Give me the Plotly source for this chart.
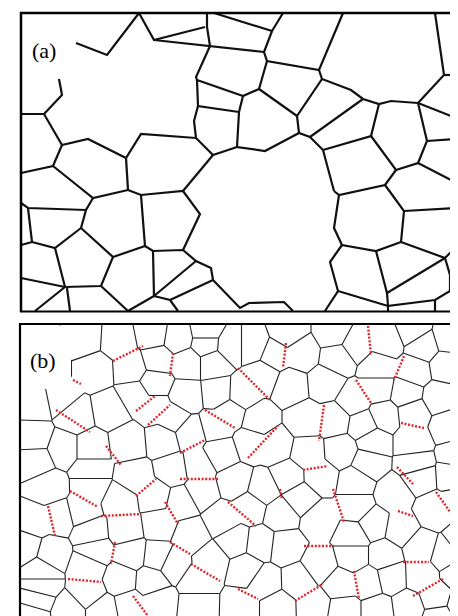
import plotly.graph_objects as go
import math

# ---------------- data (pixel-like coordinates, y downward) -------------
# Panel (a): grain boundary polylines
A_PATHS = [
    [(68, 35), (99, 47), (131, 5)],
    [(131, 5), (146, 32), (197, 19)],
    [(146, 32), (202, 38), (256, 44)],
    [(199, 5), (199, 19), (202, 38), (193, 58), (188, 69), (189, 72)],
    [(189, 72), (235, 88)],
    [(189, 72), (190, 98), (231, 104)],
    [(190, 98), (186, 113), (188, 130), (205, 147), (229, 139)],
    [(205, 147), (175, 183)],
    [(188, 130), (133, 126), (118, 150), (80, 131), (54, 137), (36, 106), (13, 106)],
    [(36, 106), (54, 87), (51, 71)],
    [(54, 137), (45, 158), (13, 165)],
    [(118, 150), (120, 182)],
    [(206, 5), (264, 23), (275, 5)],
    [(264, 23), (256, 44), (259, 53), (311, 62), (335, 5)],
    [(311, 62), (314, 71), (343, 82), (355, 91), (371, 96), (383, 93), (410, 95)],
    [(314, 71), (289, 108), (291, 125)],
    [(259, 53), (251, 81), (235, 88)],
    [(251, 81), (289, 108)],
    [(235, 88), (231, 104), (229, 139), (257, 143), (291, 125), (302, 129), (355, 91)],
    [(302, 129), (315, 142), (326, 183)],
    [(315, 142), (363, 128), (371, 96)],
    [(363, 128), (388, 162), (410, 155), (419, 133), (410, 95)],
    [(410, 95), (436, 67), (427, 5)],
    [(436, 67), (458, 67)],
    [(410, 95), (458, 114)],
    [(419, 133), (448, 131), (458, 129)],
    [(448, 131), (451, 176)],
    [(410, 155), (451, 176), (450, 200), (458, 199)],
    [(388, 162), (377, 177), (331, 187), (326, 183)],
    [(331, 187), (326, 220), (334, 237), (368, 243), (393, 234), (396, 203), (377, 177)],
    [(396, 203), (450, 200)],
    [(393, 234), (437, 250), (444, 243), (450, 200)],
    [(444, 243), (458, 240)],
    [(437, 250), (442, 267), (442, 283), (458, 300)],
    [(442, 267), (458, 267)],
    [(442, 283), (427, 292), (380, 298), (380, 303)],
    [(427, 292), (427, 303)],
    [(368, 243), (379, 285), (437, 250)],
    [(379, 285), (380, 298)],
    [(334, 237), (322, 254), (330, 283), (317, 303)],
    [(330, 283), (380, 298)],
    [(205, 272), (232, 300), (241, 295), (276, 294), (285, 303)],
    [(120, 182), (133, 187), (175, 183), (192, 206), (175, 242)],
    [(45, 158), (85, 190), (120, 182)],
    [(133, 187), (137, 238), (145, 243), (175, 242), (188, 253), (203, 260), (205, 272)],
    [(145, 243), (146, 288)],
    [(137, 238), (105, 249)],
    [(85, 190), (78, 202), (73, 220)],
    [(78, 202), (20, 200), (13, 195)],
    [(20, 200), (24, 234), (13, 237)],
    [(73, 220), (47, 240), (24, 234)],
    [(73, 220), (105, 249), (93, 278), (57, 279), (47, 240)],
    [(57, 279), (13, 270)],
    [(57, 279), (27, 303)],
    [(59, 280), (62, 303)],
    [(93, 278), (120, 303)],
    [(146, 288), (120, 303)],
    [(146, 288), (188, 253)],
    [(146, 288), (162, 292), (170, 303)],
    [(162, 292), (205, 272)],
]

# Panel (b): grain centres (seeds of the tessellation)
B_SEED_X = [
    28, 40,
    76, 110, 145, 150, 87, 123, 147, 28, 52, 67, 103, 127, 147, 27, 55, 83, 120, 155,
    170, 198, 198, 222, 205, 245, 280, 267, 293, 180, 178, 210, 234, 255, 282, 318,
    165, 208, 182, 222, 250, 298, 243, 267, 213, 190, 300,
    326, 348, 378, 405, 415, 441, 330, 370, 406, 438, 346, 370, 398, 431, 326, 356,
    376, 405, 440, 405, 365, 333, 360, 408, 448,
    28, 40, 83, 83, 127, 147, 112, 75, 50, 27, 83, 117, 152, 18, 43, 87, 123, 150,
    33, 33, 80, 113, 143, 80, 30, 60, 25, 95, 122, 150,
    165, 227, 255, 280, 292, 193, 173, 215, 242, 273, 312, 182, 227, 252, 277, 312,
    165, 203, 238, 257, 290, 190, 190, 233, 270, 306,
    312, 348, 386, 411, 445, 450, 426, 348, 345, 365, 393, 413, 438, 453, 345, 376,
    383, 413, 450, 333, 360, 336, 370, 400, 428, 453, 431,
]
B_SEED_Y = [
    330, 362,
    331, 333, 326, 352, 362, 360, 375, 395, 390, 408, 402, 388, 400, 430, 440, 440, 435, 432,
    330, 324, 336, 338, 355, 338, 325, 347, 345, 355, 388, 385, 386, 368, 378, 375,
    410, 418, 425, 405, 412, 412, 435, 438, 445, 458, 445,
    325, 337, 333, 322, 338, 330, 350, 360, 363, 358, 392, 380, 385, 390, 412, 417,
    408, 405, 418, 433, 433, 443, 455, 457, 448,
    452, 480, 462, 479, 469, 488, 493, 503, 509, 513, 524, 521, 516, 539, 546, 543, 546, 549,
    563, 579, 559, 571, 573, 584, 591, 603, 608, 603, 598, 594,
    462, 474, 481, 469, 490, 483, 494, 511, 499, 506, 512, 528, 533, 536, 539, 557,
    556, 553, 561, 574, 573, 573, 598, 599, 599, 598,
    468, 474, 486, 468, 466, 496, 503, 499, 528, 516, 521, 539, 546, 534, 548, 548,
    569, 568, 566, 576, 574, 603, 603, 599, 589, 596, 610,
]

# Panel (b): red dotted boundaries (start x, start y, end x, end y)
RED_X0 = [105, 65, 128, 140, 48, 98, 165, 278, 230, 197, 172, 240, 295, 360, 396, 348, 316,
          393, 389, 62, 128, 157, 40, 93, 107, 60, 125, 172, 272, 220, 162, 296, 183, 230,
          287, 325, 390, 428, 395, 346, 405]
RED_Y0 = [353, 372, 403, 417, 402, 438, 345, 335, 360, 402, 445, 450, 462, 318, 348, 372, 397,
          415, 459, 483, 488, 494, 498, 508, 534, 571, 588, 471, 481, 494, 534, 538, 556, 581,
          593, 481, 503, 484, 554, 563, 588]
RED_X1 = [135, 73, 147, 162, 82, 113, 162, 275, 262, 227, 197, 270, 320, 363, 386, 363, 311,
          416, 405, 90, 148, 170, 47, 133, 103, 93, 140, 210, 274, 248, 182, 326, 212, 250,
          315, 336, 405, 445, 421, 351, 435]
RED_Y1 = [338, 376, 388, 397, 424, 457, 368, 360, 392, 420, 432, 418, 458, 347, 372, 395, 433,
          420, 476, 499, 471, 516, 528, 506, 556, 574, 608, 471, 491, 518, 546, 538, 573, 591,
          576, 514, 508, 508, 554, 591, 571]

LABELS = ["(a)", "(b)"]

# ---------------- tessellation of panel (b) ----------------
BX0, BX1, BY0, BY1 = 12.0, 458.0, 316.0, 614.0


def clip(poly, nx, ny, c, lab):
    out = []
    n = len(poly)
    for k in range(n):
        (px, py), pl = poly[k]
        (qx, qy), _ = poly[(k + 1) % n]
        fp = nx * px + ny * py - c
        fq = nx * qx + ny * qy - c
        pin, qin = fp <= 0, fq <= 0
        if pin:
            out.append(((px, py), pl))
            if not qin:
                t = fp / (fp - fq)
                out.append(((px + t * (qx - px), py + t * (qy - py)), lab))
        elif qin:
            t = fp / (fp - fq)
            out.append(((px + t * (qx - px), py + t * (qy - py)), pl))
    return out


seeds = list(zip(B_SEED_X, B_SEED_Y))
edges = []
for i, (sx, sy) in enumerate(seeds):
    poly = [((BX0, BY0), -1), ((BX1, BY0), -1), ((BX1, BY1), -1), ((BX0, BY1), -1)]
    for j, (tx, ty) in enumerate(seeds):
        if j == i or abs(tx - sx) > 140 or abs(ty - sy) > 140:
            continue
        nx, ny = tx - sx, ty - sy
        mx, my = (tx + sx) / 2, (ty + sy) / 2
        poly = clip(poly, nx, ny, nx * mx + ny * my, j)
        if not poly:
            break
    for k in range(len(poly)):
        p, lab = poly[k]
        q, _ = poly[(k + 1) % len(poly)]
        if lab > i:
            edges.append((p, q))

# remove black edges that are drawn as red dotted
skip = set()
for k in range(len(RED_X0)):
    rx0, ry0, rx1, ry1 = RED_X0[k], RED_Y0[k], RED_X1[k], RED_Y1[k]
    mx, my = (rx0 + rx1) / 2, (ry0 + ry1) / 2
    ra = math.atan2(ry1 - ry0, rx1 - rx0)
    best, bd = None, 1e9
    for e, (p, q) in enumerate(edges):
        ex, ey = (p[0] + q[0]) / 2, (p[1] + q[1]) / 2
        d = math.hypot(ex - mx, ey - my)
        ea = math.atan2(q[1] - p[1], q[0] - p[0])
        da = abs(math.sin(ea - ra))
        if da < 0.6 and d < bd:
            best, bd = e, d
    if best is not None and bd < 9:
        skip.add(best)

bx, by = [], []
for e, (p, q) in enumerate(edges):
    if e in skip:
        continue
    bx += [p[0], q[0], None]
    by += [p[1], q[1], None]

ax, ay = [], []
for path in A_PATHS:
    ax += [p[0] for p in path] + [None]
    ay += [p[1] for p in path] + [None]

rx, ry = [], []
for k in range(len(RED_X0)):
    rx += [RED_X0[k], RED_X1[k], None]
    ry += [RED_Y0[k], RED_Y1[k], None]

fig = go.Figure()
fig.add_trace(go.Scatter(x=ax, y=ay, mode="lines", line=dict(color="#111111", width=2.2),
                         hoverinfo="skip"))
fig.add_trace(go.Scatter(x=bx, y=by, mode="lines", line=dict(color="#222222", width=1.1),
                         hoverinfo="skip"))
fig.add_trace(go.Scatter(x=rx, y=ry, mode="lines",
                         line=dict(color="#e0262a", width=2.4, dash="2px,1.6px"),
                         hoverinfo="skip"))

shapes = [
    dict(type="rect", x0=13, x1=63, y0=317.5, y1=381, fillcolor="white",
         line=dict(width=0), layer="above"),
    # frame of panel (a)
    dict(type="line", x0=12, x1=458, y0=5, y1=5, line=dict(color="black", width=2.5), layer="above"),
    dict(type="line", x0=13, x1=13, y0=4, y1=304, line=dict(color="black", width=2.5), layer="above"),
    dict(type="line", x0=12, x1=458, y0=303.5, y1=303.5, line=dict(color="black", width=2.2), layer="above"),
    # frame of panel (b)
    dict(type="line", x0=11, x1=458, y0=316, y1=316, line=dict(color="black", width=2.2), layer="above"),
    dict(type="line", x0=12, x1=12, y0=315, y1=615, line=dict(color="black", width=2.2), layer="above"),
    dict(type="line", x0=11, x1=458, y0=614, y1=614, line=dict(color="black", width=2.2), layer="above"),
]

fig.update_layout(
    width=458, height=616, margin=dict(l=0, r=0, t=0, b=0),
    paper_bgcolor="white", plot_bgcolor="white", showlegend=False,
    xaxis=dict(range=[0, 458], visible=False, fixedrange=True),
    yaxis=dict(range=[616, 0], visible=False, fixedrange=True),
    shapes=shapes,
    annotations=[
        dict(x=35.5, y=42, text=LABELS[0], showarrow=False, xref="x", yref="y",
             font=dict(family="Liberation Serif, Times New Roman, serif", size=22, color="black")),
        dict(x=34.5, y=352, text=LABELS[1], showarrow=False, xref="x", yref="y",
             font=dict(family="Liberation Serif, Times New Roman, serif", size=22, color="black")),
    ],
)

fig.write_html("out.html")
